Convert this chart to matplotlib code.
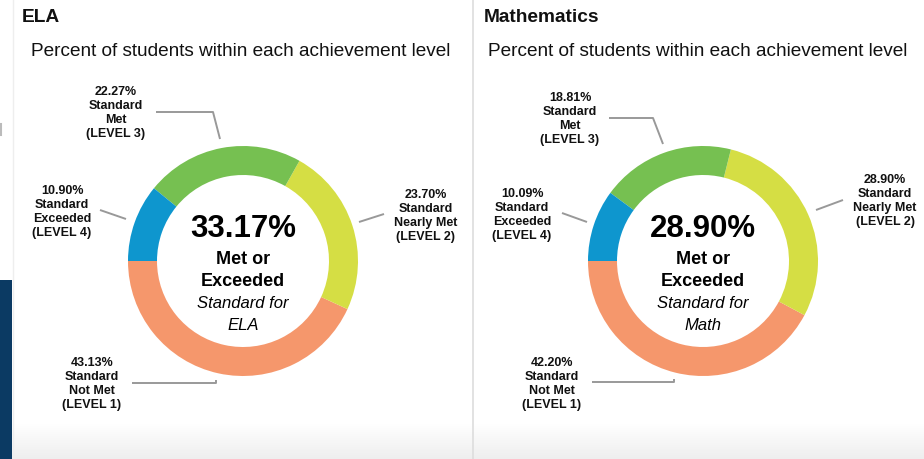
import matplotlib
matplotlib.use("Agg")
import matplotlib.pyplot as plt
import numpy as np

# ---------------- data ----------------
level_names = ["Standard\nNot Met", "Standard\nNearly Met", "Standard\nMet", "Standard\nExceeded"]
level_tags = ["(LEVEL 1)", "(LEVEL 2)", "(LEVEL 3)", "(LEVEL 4)"]
ela_values = [43.13, 23.70, 22.27, 10.90]
math_values = [42.20, 28.90, 18.81, 10.09]
ela_met = 33.17
math_met = 28.90
panel_titles = ["ELA", "Mathematics"]
subtitle = "Percent of students within each achievement level"
subject_names = ["ELA", "Math"]
colors = ["#F5976C", "#D5DE44", "#76C051", "#0E96CE"]

W, H = 924, 460
plt.rcParams['font.family'] = ['Liberation Sans', 'DejaVu Sans']

fig = plt.figure(figsize=(W / 100, H / 100), dpi=100)
ax = fig.add_axes([0, 0, 1, 1])


def Y(y):
    return H - y


# background bits of the screenshot
grad = np.linspace(0, 1, 50).reshape(-1, 1)
ax.imshow(grad, extent=(0, W, Y(460), Y(425)), cmap=matplotlib.colors.LinearSegmentedColormap.from_list(
    "g", ["#ffffff", "#eeeeee"]), aspect='auto', zorder=0)
ax.add_patch(plt.Rectangle((0, Y(460)), 12, 460 - 281, color="#0B3A63", lw=0, zorder=1))
ax.plot([12.5, 12.5], [Y(0), Y(460)], color="#eeeeee", lw=1, zorder=1)
ax.plot([473, 473], [Y(0), Y(460)], color="#dddddd", lw=1.2, zorder=1)
ax.plot([1, 1], [Y(125), Y(136)], color="#bbbbbb", lw=1.5, zorder=1)

panels = [
    dict(cx=243, cy=262, values=ela_values, met=ela_met, title_x=22, sub_x=240.5,
         label_pos=[(92, 384), (426, 216), (116, 113), (62, 212)],
         leaders=[[(132, 384), (216, 384), (216, 381)],
                  [(359, 223), (384, 215)],
                  [(156, 113), (213, 113), (220, 140)],
                  [(100, 211), (126, 220)]]),
    dict(cx=703, cy=262, values=math_values, met=math_met, title_x=484, sub_x=698,
         label_pos=[(552, 384), (885, 201), (570, 119), (522, 215)],
         leaders=[[(592, 383), (674, 383), (674, 380)],
                  [(816, 211), (843, 201)],
                  [(609, 119), (653, 119), (663, 145)],
                  [(562, 214), (587, 223)]]),
]

for i, p in enumerate(panels):
    ax.pie(p["values"], colors=colors, startangle=180, counterclock=True,
           radius=115, center=(p["cx"], Y(p["cy"])),
           wedgeprops=dict(width=29, edgecolor='none', linewidth=0))
    ax.text(p["title_x"], Y(17), panel_titles[i], fontsize=13.8, fontweight='bold',
            ha='left', va='center', color="#111111")
    ax.text(p["sub_x"], Y(51), subtitle, fontsize=13.7, ha='center', va='center',
            color="#111111")
    cx, cy = p["cx"], p["cy"]
    ax.text(cx, Y(229), f"{p['met']:.2f}%", fontsize=22.5, fontweight='bold',
            ha='center', va='center', color="#000000")
    ax.text(cx, Y(259), "Met or", fontsize=13, fontweight='bold', ha='center', va='center')
    ax.text(cx, Y(281), "Exceeded", fontsize=13, fontweight='bold', ha='center', va='center')
    ax.text(cx, Y(303), "Standard for", fontsize=12, style='italic', ha='center', va='center')
    ax.text(cx, Y(325), subject_names[i], fontsize=12, style='italic', ha='center', va='center')
    for k, v in enumerate(p["values"]):
        lx, ly = p["label_pos"][k]
        ax.text(lx, Y(ly), f"{v:.2f}%\n{level_names[k]}\n{level_tags[k]}", fontsize=9,
                fontweight='bold', ha='center', va='center', linespacing=1.22, color="#111111")
        pts = p["leaders"][k]
        ax.plot([q[0] for q in pts], [Y(q[1]) for q in pts], color="#999999", lw=1.4,
                solid_capstyle='butt', zorder=3)

ax.set_xlim(0, W)
ax.set_ylim(0, H)
ax.set_aspect('auto')
ax.set_axis_off()
fig.savefig("out.png", dpi=100)
